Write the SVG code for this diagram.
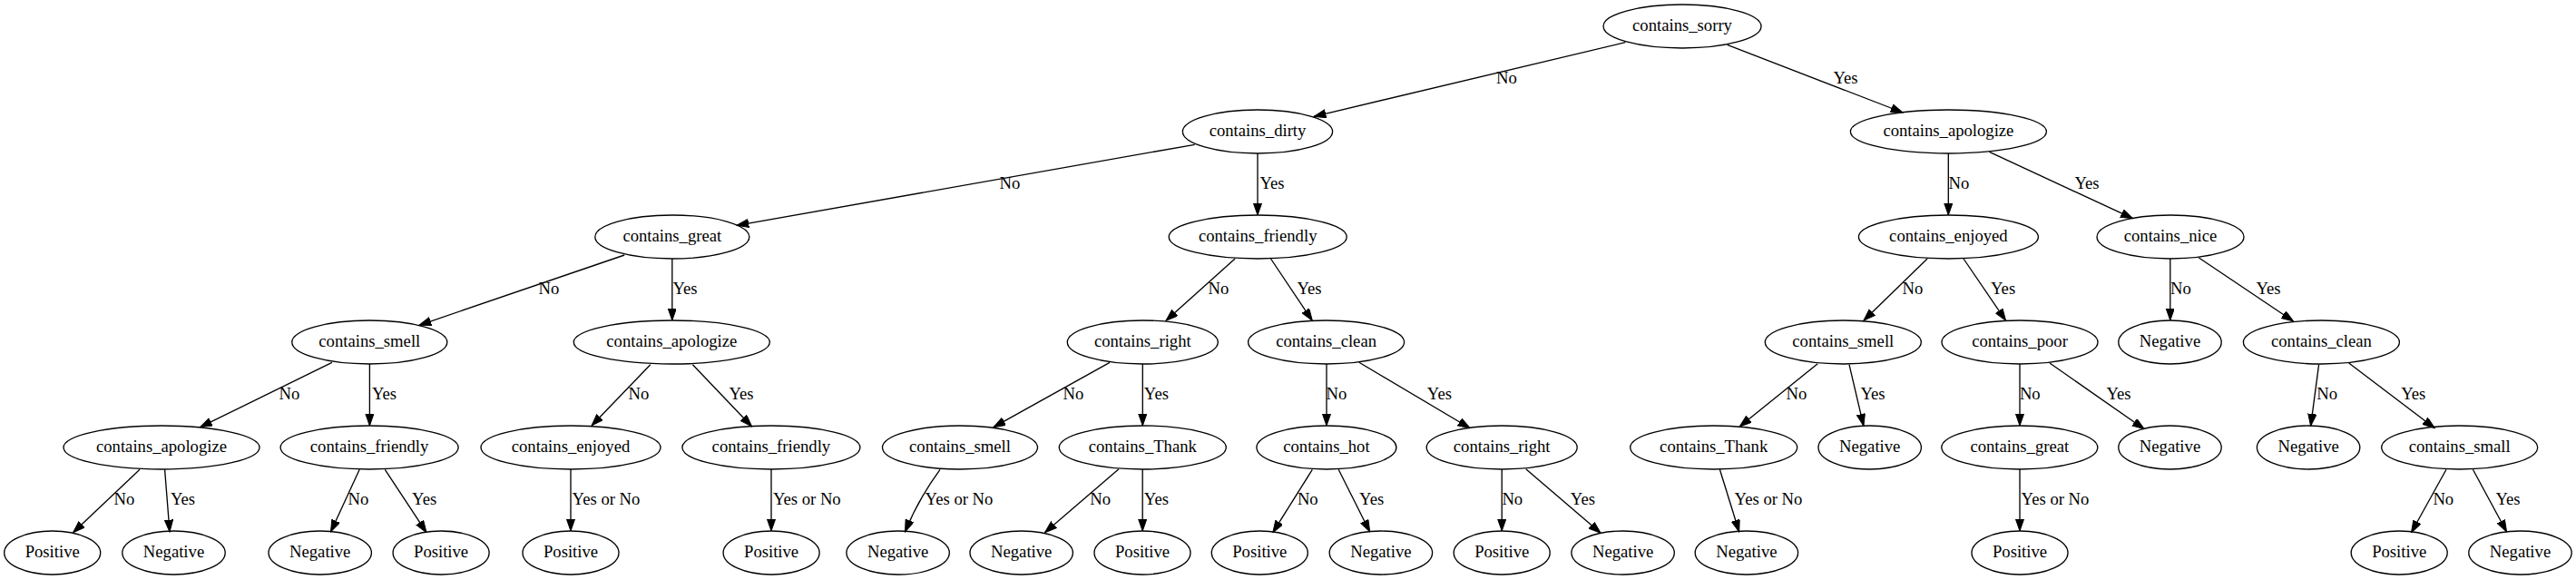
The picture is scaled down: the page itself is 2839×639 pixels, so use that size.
<svg xmlns="http://www.w3.org/2000/svg" width="2839" height="639" viewBox="0 0 2839 639">
<style>
.n ellipse{fill:none;stroke:#000;stroke-width:1.33}
text{font-family:"Liberation Serif","Times New Roman",serif;font-size:18.67px;fill:#000;text-anchor:middle}
.e path{fill:none;stroke:#000;stroke-width:1.33;marker-end:url(#arr)}
</style>
<defs>
<marker id="arr" markerUnits="userSpaceOnUse" markerWidth="14" markerHeight="10" refX="13.33" refY="4.67" orient="auto">
<path d="M0,0 L13.33,4.67 L0,9.33 z" fill="#000" stroke="#000" stroke-width="1"/>
</marker>
</defs>
<rect width="2839" height="639" fill="#fff"/>
<g id="connectors" class="e">
<path d="M1791.3,46.7 L1448.1,128.3"/><text x="1660.5" y="92">No</text>
<path d="M1903.6,49.3 L2097,124"/><text x="2034" y="92">Yes</text>
<path d="M1316.7,159.3 L811.9,248.3"/><text x="1113" y="208">No</text>
<path d="M1386,169 L1386,237"/><text x="1402" y="208">Yes</text>
<path d="M2147.3,169 L2147.3,237"/><text x="2159" y="208">No</text>
<path d="M2192.5,167.3 L2350.5,240.7"/><text x="2300" y="208">Yes</text>
<path d="M688.2,281 L461.9,358.3"/><text x="605" y="324">No</text>
<path d="M740.8,285 L740.8,353"/><text x="755" y="324">Yes</text>
<path d="M1361.1,285 L1285,353.3"/><text x="1343" y="324">No</text>
<path d="M1400.5,285 L1446.3,353.3"/><text x="1443" y="324">Yes</text>
<path d="M2124.1,285 L2053.9,353.3"/><text x="2108" y="324">No</text>
<path d="M2164,285 L2210.6,353.3"/><text x="2207.6" y="324">Yes</text>
<path d="M2391.8,285 L2391.8,353"/><text x="2403.5" y="324">No</text>
<path d="M2423.4,284 L2527.6,354"/><text x="2500" y="324">Yes</text>
<path d="M365.9,399.3 L220.5,470.7"/><text x="319" y="440">No</text>
<path d="M407.4,401 L407.4,469"/><text x="423.5" y="440">Yes</text>
<path d="M716.8,401.7 L652,469"/><text x="704" y="440">No</text>
<path d="M763.4,401.7 L828.6,470"/><text x="817" y="440">Yes</text>
<path d="M1223,399.3 L1094.9,470.7"/><text x="1183" y="440">No</text>
<path d="M1259.3,401 L1259.3,469"/><text x="1274.4" y="440">Yes</text>
<path d="M1462,401 L1462,469"/><text x="1473" y="440">No</text>
<path d="M1497.9,399.3 L1620.1,471.7"/><text x="1586.4" y="440">Yes</text>
<path d="M2003.2,400.7 L1917.2,470"/><text x="1980" y="440">No</text>
<path d="M2038,401.7 L2053.9,469.3"/><text x="2064" y="440">Yes</text>
<path d="M2226,401 L2226,469"/><text x="2237.3" y="440">No</text>
<path d="M2259,400 L2363.2,472.7"/><text x="2335" y="440">Yes</text>
<path d="M2555.6,401.7 L2546.6,469.3"/><text x="2564.7" y="440">No</text>
<path d="M2588.7,400 L2683.3,471.7"/><text x="2659.8" y="440">Yes</text>
<path d="M154,517.3 L80.6,586.7"/><text x="137" y="556">No</text>
<path d="M181.6,517.3 L187,586"/><text x="201.5" y="556">Yes</text>
<path d="M396.2,517.3 L364.5,586"/><text x="395" y="556">No</text>
<path d="M424.3,517.3 L470,586.7"/><text x="467.7" y="556">Yes</text>
<path d="M629,517 L629,585"/><text x="668" y="556">Yes or No</text>
<path d="M850,517 L850,585"/><text x="889.3" y="556">Yes or No</text>
<path d="M1036,517.3 Q1012,550 997.5,586"/><text x="1057" y="556">Yes or No</text>
<path d="M1233,516.7 L1151.5,586.7"/><text x="1212.6" y="556">No</text>
<path d="M1259.2,517 L1259.2,585"/><text x="1274.4" y="556">Yes</text>
<path d="M1446.3,517.3 L1402.8,586.7"/><text x="1441.3" y="556">No</text>
<path d="M1475.2,517.3 L1509.7,586"/><text x="1511.7" y="556">Yes</text>
<path d="M1655.2,517 L1655.2,585"/><text x="1666.8" y="556">No</text>
<path d="M1681.7,516.7 L1764.1,587.3"/><text x="1744.4" y="556">Yes</text>
<path d="M1895.4,517.3 L1916.7,586"/><text x="1949" y="556">Yes or No</text>
<path d="M2226,517 L2226,585"/><text x="2265" y="556">Yes or No</text>
<path d="M2696,517.3 L2657.5,586.7"/><text x="2692.8" y="556">No</text>
<path d="M2725.4,517.3 L2762.6,586"/><text x="2764" y="556">Yes</text>
</g>
<g id="n0" class="n"><ellipse cx="1854" cy="29" rx="87" ry="24"/><text x="1854" y="34">contains_sorry</text></g>
<g id="n1" class="n"><ellipse cx="1386" cy="145" rx="82.6" ry="24"/><text x="1386" y="150">contains_dirty</text></g>
<g id="n2" class="n"><ellipse cx="2147.4" cy="145" rx="108" ry="24"/><text x="2147.4" y="150">contains_apologize</text></g>
<g id="n3" class="n"><ellipse cx="740.8" cy="261" rx="85" ry="24"/><text x="740.8" y="266">contains_great</text></g>
<g id="n4" class="n"><ellipse cx="1386.2" cy="261" rx="98" ry="24"/><text x="1386.2" y="266">contains_friendly</text></g>
<g id="n5" class="n"><ellipse cx="2147.4" cy="261" rx="99" ry="24"/><text x="2147.4" y="266">contains_enjoyed</text></g>
<g id="n6" class="n"><ellipse cx="2392" cy="261" rx="81" ry="24"/><text x="2392" y="266">contains_nice</text></g>
<g id="n7" class="n"><ellipse cx="407.3" cy="377" rx="85.5" ry="24"/><text x="407.3" y="382">contains_smell</text></g>
<g id="n8" class="n"><ellipse cx="740.3" cy="377" rx="108" ry="24"/><text x="740.3" y="382">contains_apologize</text></g>
<g id="n9" class="n"><ellipse cx="1259.3" cy="377" rx="83" ry="24"/><text x="1259.3" y="382">contains_right</text></g>
<g id="n10" class="n"><ellipse cx="1461.6" cy="377" rx="86" ry="24"/><text x="1461.6" y="382">contains_clean</text></g>
<g id="n11" class="n"><ellipse cx="2031.3" cy="377" rx="86" ry="24"/><text x="2031.3" y="382">contains_smell</text></g>
<g id="n12" class="n"><ellipse cx="2226" cy="377" rx="86" ry="24"/><text x="2226" y="382">contains_poor</text></g>
<g id="n13" class="n"><ellipse cx="2391.5" cy="377" rx="56.7" ry="24"/><text x="2391.5" y="382">Negative</text></g>
<g id="n14" class="n"><ellipse cx="2558.4" cy="377" rx="86" ry="24"/><text x="2558.4" y="382">contains_clean</text></g>
<g id="n15" class="n"><ellipse cx="178" cy="493" rx="108" ry="24"/><text x="178" y="498">contains_apologize</text></g>
<g id="n16" class="n"><ellipse cx="407.1" cy="493" rx="98" ry="24"/><text x="407.1" y="498">contains_friendly</text></g>
<g id="n17" class="n"><ellipse cx="629" cy="493" rx="99" ry="24"/><text x="629" y="498">contains_enjoyed</text></g>
<g id="n18" class="n"><ellipse cx="849.9" cy="493" rx="98" ry="24"/><text x="849.9" y="498">contains_friendly</text></g>
<g id="n19" class="n"><ellipse cx="1058" cy="493" rx="85.5" ry="24"/><text x="1058" y="498">contains_smell</text></g>
<g id="n20" class="n"><ellipse cx="1259.3" cy="493" rx="92" ry="24"/><text x="1259.3" y="498">contains_Thank</text></g>
<g id="n21" class="n"><ellipse cx="1461.9" cy="493" rx="77" ry="24"/><text x="1461.9" y="498">contains_hot</text></g>
<g id="n22" class="n"><ellipse cx="1655.2" cy="493" rx="83" ry="24"/><text x="1655.2" y="498">contains_right</text></g>
<g id="n23" class="n"><ellipse cx="1888.7" cy="493" rx="92" ry="24"/><text x="1888.7" y="498">contains_Thank</text></g>
<g id="n24" class="n"><ellipse cx="2060.7" cy="493" rx="56.7" ry="24"/><text x="2060.7" y="498">Negative</text></g>
<g id="n25" class="n"><ellipse cx="2225.8" cy="493" rx="86" ry="24"/><text x="2225.8" y="498">contains_great</text></g>
<g id="n26" class="n"><ellipse cx="2391.5" cy="493" rx="56.7" ry="24"/><text x="2391.5" y="498">Negative</text></g>
<g id="n27" class="n"><ellipse cx="2544.1" cy="493" rx="56.7" ry="24"/><text x="2544.1" y="498">Negative</text></g>
<g id="n28" class="n"><ellipse cx="2710.7" cy="493" rx="86" ry="24"/><text x="2710.7" y="498">contains_small</text></g>
<g id="n29" class="n"><ellipse cx="57.7" cy="609" rx="53" ry="24"/><text x="57.7" y="614">Positive</text></g>
<g id="n30" class="n"><ellipse cx="191.5" cy="609" rx="56.7" ry="24"/><text x="191.5" y="614">Negative</text></g>
<g id="n31" class="n"><ellipse cx="352.7" cy="609" rx="56.7" ry="24"/><text x="352.7" y="614">Negative</text></g>
<g id="n32" class="n"><ellipse cx="486.1" cy="609" rx="53" ry="24"/><text x="486.1" y="614">Positive</text></g>
<g id="n33" class="n"><ellipse cx="629" cy="609" rx="53" ry="24"/><text x="629" y="614">Positive</text></g>
<g id="n34" class="n"><ellipse cx="850.1" cy="609" rx="53" ry="24"/><text x="850.1" y="614">Positive</text></g>
<g id="n35" class="n"><ellipse cx="989.6" cy="609" rx="56.7" ry="24"/><text x="989.6" y="614">Negative</text></g>
<g id="n36" class="n"><ellipse cx="1125.7" cy="609" rx="56.7" ry="24"/><text x="1125.7" y="614">Negative</text></g>
<g id="n37" class="n"><ellipse cx="1259" cy="609" rx="53" ry="24"/><text x="1259" y="614">Positive</text></g>
<g id="n38" class="n"><ellipse cx="1388.3" cy="609" rx="53" ry="24"/><text x="1388.3" y="614">Positive</text></g>
<g id="n39" class="n"><ellipse cx="1521.9" cy="609" rx="56.7" ry="24"/><text x="1521.9" y="614">Negative</text></g>
<g id="n40" class="n"><ellipse cx="1655.2" cy="609" rx="53" ry="24"/><text x="1655.2" y="614">Positive</text></g>
<g id="n41" class="n"><ellipse cx="1788.6" cy="609" rx="56.7" ry="24"/><text x="1788.6" y="614">Negative</text></g>
<g id="n42" class="n"><ellipse cx="1924.9" cy="609" rx="56.7" ry="24"/><text x="1924.9" y="614">Negative</text></g>
<g id="n43" class="n"><ellipse cx="2226" cy="609" rx="53" ry="24"/><text x="2226" y="614">Positive</text></g>
<g id="n44" class="n"><ellipse cx="2644.2" cy="609" rx="53" ry="24"/><text x="2644.2" y="614">Positive</text></g>
<g id="n45" class="n"><ellipse cx="2777.5" cy="609" rx="56.7" ry="24"/><text x="2777.5" y="614">Negative</text></g>
</svg>
